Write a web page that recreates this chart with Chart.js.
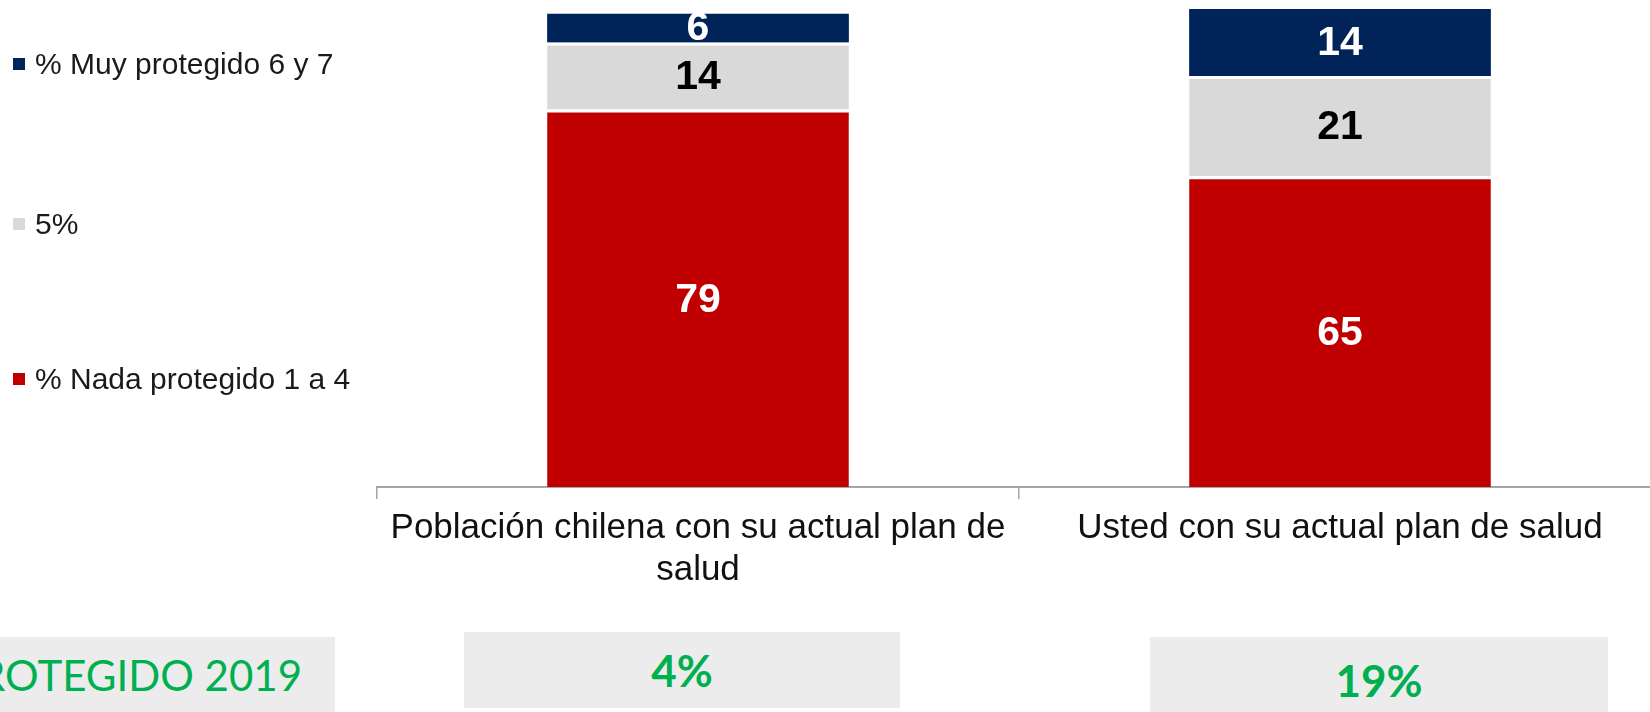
<!DOCTYPE html>
<html>
<head>
<meta charset="utf-8">
<script src="https://cdn.jsdelivr.net/npm/chart.js@4.4.1/dist/chart.umd.min.js"></script>
<style>
  html, body { margin: 0; padding: 0; background: #fff; overflow: hidden; }
  body { width: 1650px; height: 712px; position: relative; }
  #wrap { position: absolute; left: 0; top: 0; width: 1680px; height: 712px; }
  .legend-item { position: absolute; left: 13px; height: 30px; display: flex; align-items: center;
    font: 30px "Liberation Sans", Arial, sans-serif; color: #1a1a1a; white-space: nowrap; }
  .legend-item .sw { width: 12px; height: 12px; margin-right: 10px; }
  .box { position: absolute; background: #ececec; color: #00b050; display: flex; align-items: center;
    justify-content: center; font-family: Lato, "Open Sans", sans-serif; white-space: nowrap; box-sizing: border-box; }
</style>
</head>
<body>
<div id="wrap"><canvas id="chart"></canvas></div>
<div id="legend"></div>
<div id="boxes"></div>
<script>
// categories and series
const categories = [['Población chilena con su actual plan de', 'salud'], 'Usted con su actual plan de salud'];
const seriesNames = ['% Nada protegido 1 a 4', '5%', '% Muy protegido 6 y 7'];
const nadaProtegido = [79, 65];
const cinco = [14, 21];
const muyProtegido = [6, 14];

// figures shown in the grey boxes under the chart
const protegidoTitle = 'PROTEGIDO 2019';
const protegido2019 = ['4%', '19%'];

const colors = ['#c00000', '#d9d9d9', '#00245a'];
const labelColors = ['#ffffff', '#000000', '#ffffff'];
const FONT = '"Liberation Sans", Arial, sans-serif';

const segmentLabels = {
  id: 'segmentLabels',
  afterDatasetsDraw(chart) {
    const ctx = chart.ctx;
    ctx.save();
    ctx.font = 'bold 41px ' + FONT;
    ctx.textAlign = 'center';
    ctx.textBaseline = 'middle';
    chart.data.datasets.forEach((ds, i) => {
      const meta = chart.getDatasetMeta(i);
      meta.data.forEach((bar, j) => {
        const { x, y, base } = bar.getProps(['x', 'y', 'base'], true);
        const shift = i < 2 ? 2 : 1;
        ctx.fillStyle = labelColors[i];
        ctx.fillText(ds.data[j], x, (y + base) / 2 + shift);
      });
    });
    ctx.restore();
  }
};

const datasets = [nadaProtegido, cinco, muyProtegido].map((values, i) => ({
  label: seriesNames[i],
  data: values,
  backgroundColor: colors[i],
  borderColor: '#ffffff',
  borderWidth: i < 2 ? { top: 3, left: 0, right: 0, bottom: 0 } : 0,
  borderSkipped: false,
  categoryPercentage: 1,
  barPercentage: 0.47
}));

new Chart(document.getElementById('chart'), {
  type: 'bar',
  data: { labels: categories, datasets },
  options: {
    responsive: true,
    maintainAspectRatio: false,
    animation: false,
    layout: { padding: { left: 377, right: 19, top: 9, bottom: 113 } },
    plugins: { legend: { display: false }, tooltip: { enabled: false } },
    scales: {
      x: {
        stacked: true,
        offset: true,
        grid: { display: true, drawOnChartArea: false, drawTicks: true, tickLength: 12, color: '#a6a6a6', lineWidth: 1.5 },
        border: { display: true, color: '#a6a6a6', width: 2 },
        ticks: { color: '#111', padding: 8, maxRotation: 0, autoSkip: false,
          font: { family: FONT, size: 35, lineHeight: 1.2 } }
      },
      y: { stacked: true, display: false, min: 0, max: 100 }
    }
  },
  plugins: [segmentLabels]
});

// legend, top to bottom in reverse series order
const legendTops = [364, 209, 49];
const legend = document.getElementById('legend');
seriesNames.forEach((name, i) => {
  const item = document.createElement('div');
  item.className = 'legend-item';
  item.style.top = legendTops[i] + 'px';
  item.innerHTML = '<span class="sw" style="background:' + colors[i] + '"></span>' + name;
  legend.appendChild(item);
});

// grey boxes
const boxes = document.getElementById('boxes');
const title = document.createElement('div');
title.className = 'box';
Object.assign(title.style, { left: '-60px', top: '637px', width: '395px', height: '75px', fontSize: '42px',
  justifyContent: 'flex-end', paddingRight: '33px' });
title.textContent = protegidoTitle;
boxes.appendChild(title);
const boxGeom = [[464, 632, 436, 76, 0], [1150, 637, 458, 75, 10]];
protegido2019.forEach((txt, i) => {
  const b = document.createElement('div');
  b.className = 'box';
  const [l, t, w, h, pt] = boxGeom[i];
  Object.assign(b.style, { left: l + 'px', top: t + 'px', width: w + 'px', height: h + 'px',
    fontSize: '44px', fontWeight: 'bold', paddingTop: pt + 'px' });
  b.textContent = txt;
  boxes.appendChild(b);
});
</script>
</body>
</html>
